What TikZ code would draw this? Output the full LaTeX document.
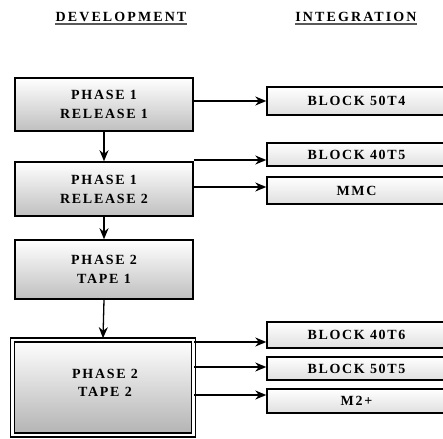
\documentclass[tikz,border=0pt]{standalone}
\usepackage{fontspec}
\setmainfont{Liberation Serif}
\newfontfamily\lblfont[LetterSpace=12]{Liberation Serif}
\newfontfamily\hdfont[LetterSpace=15]{Liberation Serif}
\usetikzlibrary{arrows.meta}
\begin{document}
\begin{tikzpicture}[x=1pt,y=1pt,
  lbox/.style={draw=black, line width=1.5pt, minimum width=178pt, minimum height=50pt, inner sep=0pt,
     align=center, font=\lblfont\bfseries\fontsize{14}{19}\selectfont,
     top color=white, bottom color=gray!50},
  rbox/.style={draw=black, line width=1.4pt, minimum width=179pt, inner sep=0pt,
     font=\lblfont\bfseries\fontsize{14}{16}\selectfont,
     top color=white, bottom color=gray!25},
  hd/.style={font=\hdfont\bfseries\fontsize{14}{16}\selectfont, inner sep=0pt},
  arr/.style={line width=1.3pt, -{Stealth[length=11pt,width=9pt,inset=3.5pt]}}]
\path[use as bounding box] (0,0) rectangle (443,-438);
% headers
\node[hd] (h1) at (121,-17) {DEVELOPMENT};
\node[hd] (h2) at (356,-17) {INTEGRATION};
\draw[gray!70!black, line width=1.2pt] ([yshift=-2.5pt]h1.base west) -- ([yshift=-2.5pt]h1.base east);
\draw[gray!70!black, line width=1.2pt] ([yshift=-2.5pt]h2.base west) -- ([yshift=-2.5pt]h2.base east);
% left boxes
\node[lbox, minimum height=53pt] (b1) at (104,-104.5) {PHASE 1\\RELEASE 1};
\node[lbox, minimum height=54pt] (b2) at (104,-189) {PHASE 1\\RELEASE 2};
\node[lbox, minimum height=59pt] (b3) at (104,-269.5) {PHASE 2\\TAPE 1};
\node[lbox, minimum width=181pt, minimum height=95pt, double=white, double distance=2.6pt,
      line width=1.6pt, bottom color=gray!60] (b4) at (103,-387.5) {};
\node[font=\lblfont\bfseries\fontsize{14}{18}\selectfont, align=center] (t4) at (105,-383) {PHASE 2\\TAPE 2};
% right boxes
\node[rbox, minimum height=28pt] (r1) at (356.5,-101) {BLOCK 50T4};
\node[rbox, minimum height=23pt] (r2) at (356.5,-154.5) {BLOCK 40T5};
\node[rbox, minimum height=27pt] (r3) at (356.5,-190.5) {MMC};
\node[rbox, minimum height=26pt] (r4) at (356.5,-335) {BLOCK 40T6};
\node[rbox, minimum height=23pt] (r5) at (356.5,-368.5) {BLOCK 50T5};
\node[rbox, minimum height=24pt] (r6) at (356.5,-401) {M2+};
% arrow levels
\coordinate (y1) at (0,-101);
\coordinate (y2) at (0,-160);
\coordinate (y3) at (0,-187);
\coordinate (y4) at (0,-342);
\coordinate (y5) at (0,-367);
\coordinate (y6) at (0,-395);
% vertical arrows
\draw[arr] (b1.south) -- (b2.north);
\draw[arr] (b2.south) -- (b3.north);
\draw[arr] (b3.south) -- ([yshift=1pt]b4.north);
% horizontal arrows
\draw[arr] (b1.east |- y1) -- (r1.west |- y1);
\draw[arr] (b2.east |- y2) -- (r2.west |- y2);
\draw[arr] (b2.east |- y3) -- (r3.west |- y3);
\draw[arr] (b4.east |- y4) -- (r4.west |- y4);
\draw[arr] (b4.east |- y5) -- (r5.west |- y5);
\draw[arr] (b4.east |- y6) -- (r6.west |- y6);
\end{tikzpicture}
\end{document}
